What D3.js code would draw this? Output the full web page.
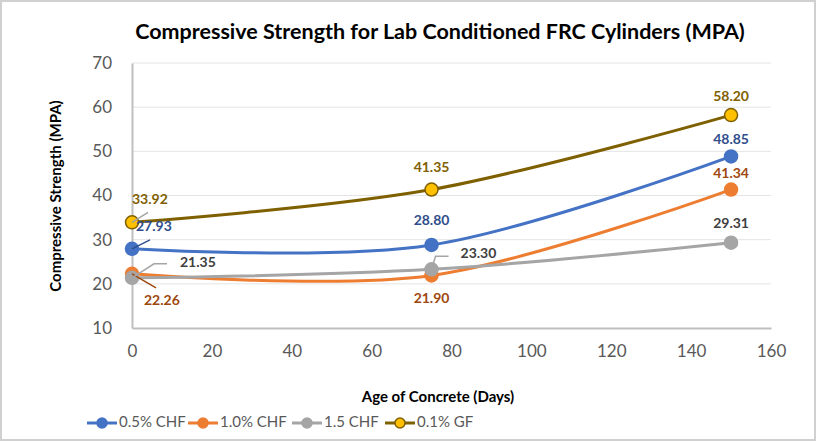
<!DOCTYPE html>
<html>
<head>
<meta charset="utf-8">
<script src="https://cdn.jsdelivr.net/npm/d3@7"></script>
<style>
  body { margin: 0; background: #fff; }
  text { font-family: Lato, "Open Sans", sans-serif; }
</style>
</head>
<body>
<div id="chart"></div>
<script>
let width = 816;
let height = 441;
let margin = ({top: 63, right: 45, bottom: 113, left: 132});

// data
let days = [0, 75, 150];
let seriesNames = ["0.5% CHF", "1.0% CHF", "1.5 CHF", "0.1% GF"];
let chf05 = [27.93, 28.80, 48.85];
let chf10 = [22.26, 21.90, 41.34];
let chf15 = [21.35, 23.30, 29.31];
let gf01 = [33.92, 41.35, 58.20];
let xTicks = [0, 20, 40, 60, 80, 100, 120, 140, 160];
let yTicks = [10, 20, 30, 40, 50, 60, 70];

let lineColors = ["#4472C4", "#ED7D31", "#A5A5A5", "#7F6000"];
let markerFill = ["#4472C4", "#ED7D31", "#A5A5A5", "#FFC000"];
let labelColors = ["#2F4E8C", "#9E480E", "#404040", "#806000"];

// label placement per point: offset from marker, anchor, optional leader line
let labelPos = [
  [{dx: 4, dy: -21, a: "start", lead: [[0, 0], [18, -9]]}, {dx: 0, dy: -24, a: "middle"}, {dx: 0, dy: -16, a: "middle"}],
  [{dx: 12, dy: 28, a: "start", lead: [[0, 0], [24, 14]]}, {dx: 0, dy: 24, a: "middle"}, {dx: 0, dy: -15, a: "middle"}],
  [{dx: 48, dy: -14, a: "start", lead: [[0, 0], [22, -14], [35, -14]]}, {dx: 29, dy: -15, a: "start", lead: [[0, 0], [4, -13], [17, -13]]}, {dx: 0, dy: -18, a: "middle"}],
  [{dx: 0, dy: -22, a: "start", lead: [[0, 0], [16, -10]]}, {dx: 0, dy: -21, a: "middle"}, {dx: 0, dy: -18, a: "middle"}]
];

let series = [chf05, chf10, chf15, gf01].map((vals, i) => ({
  name: seriesNames[i],
  points: vals.map((v, j) => ({x: days[j], y: v, pos: labelPos[i][j]}))
}));

let svg = d3.select("#chart")
  .append("svg")
  .attr("width", width)
  .attr("height", height);

svg.append("rect")
  .attr("x", 1).attr("y", 1)
  .attr("width", width - 2).attr("height", height - 2)
  .attr("fill", "#fff")
  .attr("stroke", "#D0D0D0")
  .attr("stroke-width", 2);

let xScale = d3.scaleLinear()
  .domain([0, 160])
  .range([margin.left, width - margin.right]);

let yScale = d3.scaleLinear()
  .domain([10, 70])
  .range([height - margin.bottom, margin.top]);

// gridlines
svg.append("g")
  .selectAll("line")
  .data(yTicks.slice(1))
  .join("line")
  .attr("x1", margin.left)
  .attr("x2", width - margin.right)
  .attr("y1", d => yScale(d))
  .attr("y2", d => yScale(d))
  .attr("stroke", "#E4E4E4")
  .attr("stroke-width", 1);

// axes
let xAxis = d3.axisBottom(xScale).tickValues(xTicks).tickSize(0).tickPadding(17);
let yAxis = d3.axisLeft(yScale).tickValues(yTicks).tickSize(0).tickPadding(20);

let gx = svg.append("g")
  .attr("transform", "translate(0," + (height - margin.bottom) + ")")
  .call(xAxis);
let gy = svg.append("g")
  .attr("transform", "translate(" + margin.left + ",0)")
  .call(yAxis);

[gx, gy].forEach(g => {
  g.select(".domain").attr("stroke", "#BFBFBF").attr("stroke-width", 2);
  g.selectAll("text")
    .attr("fill", "#595959")
    .style("font-size", "17px")
    .style("font-family", "Lato, sans-serif");
});

// lines
let line = d3.line()
  .x(d => xScale(d.x))
  .y(d => yScale(d.y))
  .curve(d3.curveCardinal.tension(0));

let gs = svg.append("g")
  .selectAll("g")
  .data(series)
  .join("g");

gs.append("path")
  .attr("d", d => line(d.points))
  .attr("fill", "none")
  .attr("stroke", (d, i) => lineColors[i])
  .attr("stroke-width", 3);

gs.each(function(s, i) {
  let g = d3.select(this);
  g.selectAll("circle")
    .data(s.points)
    .join("circle")
    .attr("cx", d => xScale(d.x))
    .attr("cy", d => yScale(d.y))
    .attr("r", 6.5)
    .attr("fill", markerFill[i])
    .attr("stroke", i === 3 ? "#7F6000" : markerFill[i])
    .attr("stroke-width", 1.5);
});

// data labels (drawn after all markers)
let labelLayer = svg.append("g");
series.forEach((s, i) => {
  s.points.forEach(d => {
    let cx = xScale(d.x), cy = yScale(d.y), p = d.pos;
    if (p.lead) {
      let leadColor = (i === 0) ? "#2F4E8C" : (i === 1 ? "#9E480E" : "#A5A5A5");
      labelLayer.append("polyline")
        .attr("points", p.lead.map(q => (cx + q[0]) + "," + (cy + q[1])).join(" "))
        .attr("fill", "none")
        .attr("stroke", leadColor)
        .attr("stroke-width", 1.5);
    }
    labelLayer.append("text")
      .attr("x", cx + p.dx)
      .attr("y", cy + p.dy)
      .attr("text-anchor", p.a)
      .attr("dominant-baseline", "middle")
      .attr("fill", labelColors[i])
      .style("font-size", "14px")
      .style("font-weight", "bold")
      .text(d3.format(".2f")(d.y));
  });
});

// title
svg.append("text")
  .attr("x", 440)
  .attr("y", 33)
  .attr("text-anchor", "middle")
  .attr("dominant-baseline", "middle")
  .attr("fill", "#000")
  .style("font-size", "21.5px")
  .style("font-weight", "bold")
  .text("Compressive Strength for Lab Conditioned FRC Cylinders (MPA)");

// axis titles
svg.append("text")
  .attr("x", 438)
  .attr("y", 398)
  .attr("text-anchor", "middle")
  .attr("dominant-baseline", "middle")
  .style("font-size", "15px")
  .style("font-weight", "bold")
  .text("Age of Concrete (Days)");

svg.append("text")
  .attr("transform", "translate(57,196) rotate(-90)")
  .attr("text-anchor", "middle")
  .attr("dominant-baseline", "middle")
  .style("font-size", "15px")
  .style("font-weight", "bold")
  .text("Compressive Strength (MPA)");

// legend
let legendX = [87, 188, 292, 385];
let legend = svg.append("g")
  .selectAll("g")
  .data(seriesNames)
  .join("g")
  .attr("transform", (d, i) => "translate(" + legendX[i] + ",423)");

legend.append("line")
  .attr("x1", 0).attr("x2", 30)
  .attr("stroke", (d, i) => lineColors[i])
  .attr("stroke-width", 3);
legend.append("circle")
  .attr("cx", 15).attr("r", 5)
  .attr("fill", (d, i) => markerFill[i])
  .attr("stroke", (d, i) => i === 3 ? "#7F6000" : markerFill[i])
  .attr("stroke-width", 1.5);
legend.append("text")
  .attr("x", 32)
  .attr("dominant-baseline", "middle")
  .attr("fill", "#595959")
  .style("font-size", "15px")
  .text(d => d);
</script>
</body>
</html>
